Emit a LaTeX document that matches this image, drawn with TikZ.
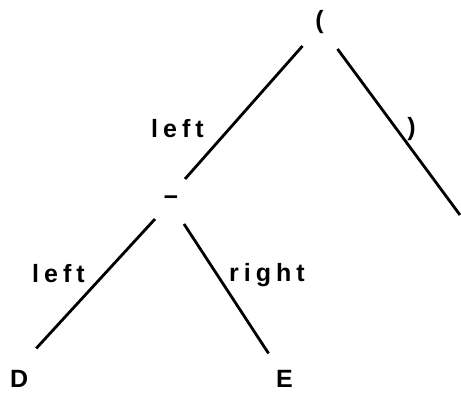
\documentclass[tikz,border=0pt]{standalone}
\usepackage{fontspec}
\setmainfont{Liberation Sans}[LetterSpace=20]
\usetikzlibrary{calc}
\begin{document}
\begin{tikzpicture}[x=1pt,y=1pt,
  every node/.style={font=\fontsize{25}{30}\selectfont\bfseries, inner sep=0pt},
  edge/.style={line width=2.8pt, line cap=butt},
  lbl/.style={anchor=base west}]
\useasboundingbox (0,0) rectangle (461,394);
% tree nodes
\node (root) at (319.5,372) {(};
\node (minus) at (171,193) {−};
\node[anchor=base west] (D) at (10,6) {D};
\node[anchor=base west] (E) at (276,6) {E};
\coordinate (rleaf) at (460,179);
% connectors
\draw[edge] ($(root.center)+(-17,-24)$) -- ($(minus.center)+(14,22)$);
\draw[edge] ($(root.center)+(18,-27)$) -- (rleaf);
\draw[edge] ($(minus.center)+(-16,-18)$) -- ($(D.center)+(17,31)$);
\draw[edge] ($(minus.center)+(13,-23)$) -- ($(E.center)+(-16,26)$);
% labels
\node[lbl] (l1) at (151,256) {left};
\node (l2) at (411.5,265) {)};
\node[lbl] (l3) at (32,111) {left};
\node[lbl] (l4) at (229,112) {right};
\end{tikzpicture}
\end{document}
